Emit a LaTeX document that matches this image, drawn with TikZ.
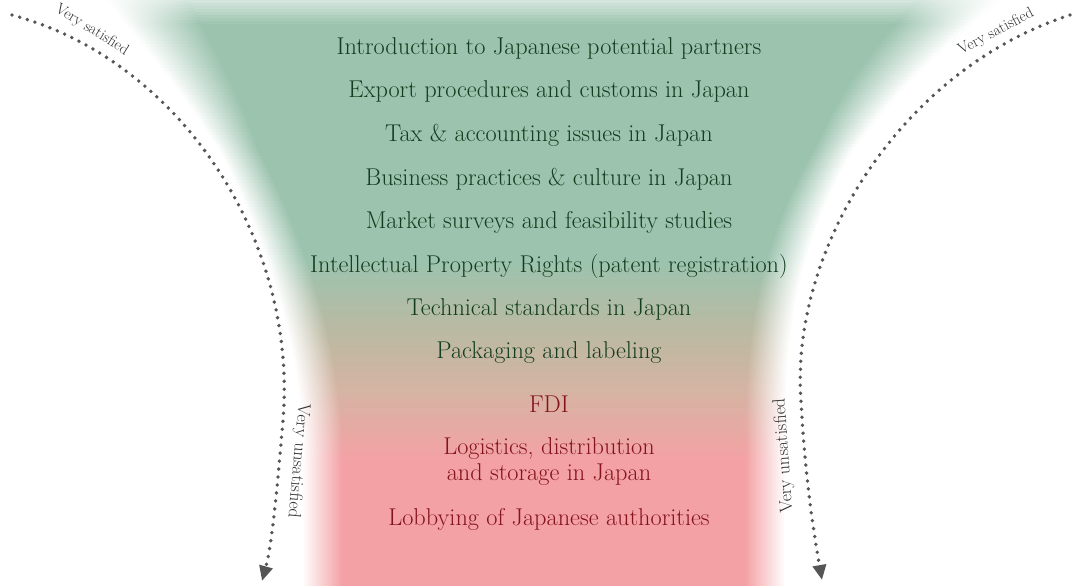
\documentclass[tikz,border=0pt]{standalone}
\usepackage{fontspec}
\usetikzlibrary{arrows.meta}
\definecolor{fg}{HTML}{9BC3AE}
\definecolor{ft1}{HTML}{BCB9A2}
\definecolor{ft2}{HTML}{D5B4A3}
\definecolor{fp}{HTML}{F4A1A5}
\definecolor{tgreen}{HTML}{133D1F}
\definecolor{tred}{HTML}{84131E}
\definecolor{dotgray}{HTML}{555555}
\tikzset{
  item/.style={anchor=base, text=tgreen, font=\fontsize{24.3}{26}\selectfont, inner sep=0pt},
  itemr/.style={item, text=tred, align=center},
  lab/.style={text=black!80, font=\fontsize{15.5}{18}\selectfont, inner sep=0pt},
  labu/.style={lab, font=\fontsize{18}{20}\selectfont},
  dots/.style={dotgray, line width=3.8pt, line cap=round, dash pattern=on 0pt off 8pt,
    -{Triangle[length=15pt,width=13pt]}}
}
\begin{document}
\begin{tikzpicture}[x=1pt,y=-1pt]
\useasboundingbox (0,0) rectangle (1072,586);
\fill[white] (0,0) rectangle (1072,586);
% funnel, drawn as opaque horizontal strips with soft side edges
\foreach \y in {0,3,...,585}{
  \pgfmathsetmacro{\yc}{\y+1.5}
  \pgfmathsetmacro{\Lx}{322-177*(max(0.0001,1-\yc/450))^1.85}
  \pgfmathsetmacro{\Rx}{765+195*(max(0.0001,1-\yc/450))^2.6}
  \pgfmathsetmacro{\w}{40+45*max(0,1-\yc/150)}
  \pgfmathsetmacro{\f}{min(100,40+\yc*2.4)}
  \ifdim\yc pt<260pt \colorlet{cc}{fg}\else
  \ifdim\yc pt<335pt \pgfmathsetmacro{\p}{(\yc-260)/0.75}\colorlet{cc}{ft1!\p!fg}\else
  \ifdim\yc pt<390pt \pgfmathsetmacro{\p}{(\yc-335)/0.55}\colorlet{cc}{ft2!\p!ft1}\else
  \ifdim\yc pt<460pt \pgfmathsetmacro{\p}{(\yc-390)/0.7}\colorlet{cc}{fp!\p!ft2}\else
  \colorlet{cc}{fp}\fi\fi\fi\fi
  \colorlet{cc2}{cc!\f!white}
  \shade[left color=white, right color=cc2] ({\Lx-\w/2},{\y}) rectangle ({\Lx+\w/2},{\y+3.8});
  \fill[cc2] ({\Lx+\w/2-0.3},{\y}) rectangle ({\Rx-\w/2+0.3},{\y+3.8});
  \shade[left color=cc2, right color=white] ({\Rx-\w/2},{\y}) rectangle ({\Rx+\w/2},{\y+3.8});
}
% items
\node[item] (i1) at (549,55) {Introduction to Japanese potential partners};
\node[item] (i2) at (549,98) {Export procedures and customs in Japan};
\node[item] (i3) at (549,142) {Tax \& accounting issues in Japan};
\node[item] (i4) at (549,185) {Business practices \& culture in Japan};
\node[item] (i5) at (549,228) {Market surveys and feasibility studies};
\node[item] (i6) at (549,272) {Intellectual Property Rights (patent registration)};
\node[item] (i7) at (549,315) {Technical standards in Japan};
\node[item] (i8) at (549,358) {Packaging and labeling};
\node[itemr] (r1) at (549,412) {FDI};
\node[itemr] (r2) at (549,480) {Logistics, distribution\\and storage in Japan};
\node[itemr] (r3) at (549,525) {Lobbying of Japanese authorities};
% arrows
\coordinate (ls) at (12,15);
\coordinate (le) at (262,581);
\coordinate (rs) at (1070,15);
\coordinate (re) at (822,580);
\draw[dots] (ls) .. controls (180,60) and (298,240) .. (283,420) .. controls (278,480) and (272,545) .. (le);
\draw[dots] (rs) .. controls (900,70) and (790,250) .. (801,400) .. controls (805,480) and (815,540) .. (re);
\node[lab, rotate=-32] (vsl) at (92,30) {Very satisfied};
\node[lab, rotate=28] (vsr) at (996,32) {Very satisfied};
\node[labu, rotate=-95] (vul) at (298,461) {Very unsatisfied};
\node[labu, rotate=94] (vur) at (784,456) {Very unsatisfied};
\end{tikzpicture}
\end{document}
